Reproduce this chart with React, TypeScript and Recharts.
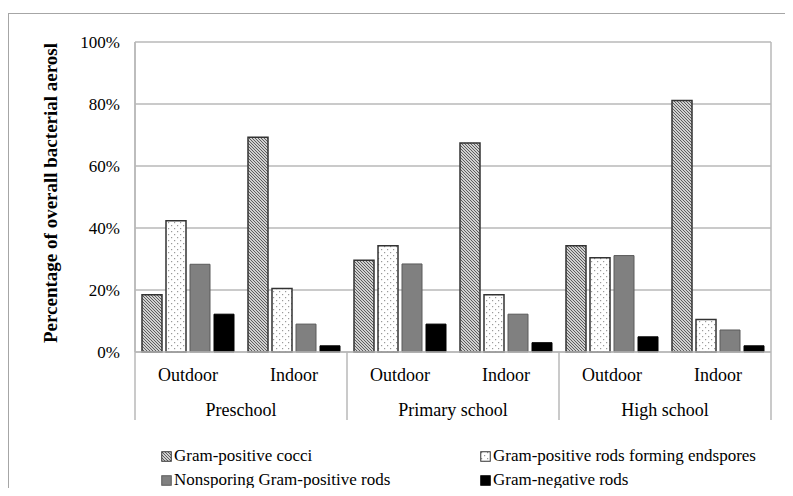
import React from 'react';
import { BarChart, Bar, XAxis, YAxis, CartesianGrid, Legend } from 'recharts';

const schools = ['Preschool', 'Primary school', 'High school'];
const locations = ['Outdoor', 'Indoor'];
const seriesNames = [
  'Gram-positive cocci',
  'Gram-positive rods forming endspores',
  'Nonsporing Gram-positive rods',
  'Gram-negative rods',
];
const cocci = [18.5, 69.3, 29.6, 67.4, 34.3, 81.1];
const endspores = [42.3, 20.5, 34.3, 18.5, 30.4, 10.5];
const nonsporing = [28.3, 9.0, 28.4, 12.2, 31.1, 7.1];
const gramNeg = [12.2, 2.0, 9.0, 3.0, 4.9, 2.0];
const yTicks = [0, 20, 40, 60, 80, 100];

const data = schools.flatMap((s, si) =>
  locations.map((l, li) => {
    const i = si * locations.length + li;
    return {
      id: `${s}|${l}`,
      school: s,
      location: l,
      cocci: cocci[i],
      endspores: endspores[i],
      nonsporing: nonsporing[i],
      gramNeg: gramNeg[i],
    };
  })
);

const FONT = "'Liberation Serif', 'Times New Roman', serif";
const W = 785;
const H = 488;
const MARGIN = { top: 34, right: 22, left: 0, bottom: 74 };
const Y_AXIS_W = 127;
const PLOT_W = W - MARGIN.left - MARGIN.right - Y_AXIS_W;
const BAND = PLOT_W / data.length;
const LINE = '#b8b8b8';

const Patterns = ({ prefix }: { prefix: string }) => (
  <defs>
    <pattern id={`${prefix}hatch`} width="3" height="3" patternUnits="userSpaceOnUse">
      <rect width="3" height="3" fill="#d0d0d0" />
      <path d="M0,0 L3,3 M-1,2 L1,4 M2,-1 L4,1" stroke="#505050" strokeWidth="0.9" />
    </pattern>
    <pattern id={`${prefix}dots`} width="6" height="6" patternUnits="userSpaceOnUse">
      <rect width="6" height="6" fill="#ffffff" />
      <rect x="1" y="1" width="1.2" height="1.2" fill="#9a9a9a" />
      <rect x="4" y="4" width="1.2" height="1.2" fill="#9a9a9a" />
    </pattern>
  </defs>
);

const seriesStyles = [
  { key: 'cocci', fill: 'hatch', stroke: '#333', sw: 1.5 },
  { key: 'endspores', fill: 'dots', stroke: '#333', sw: 1.5 },
  { key: 'nonsporing', fill: '#808080', stroke: '#5a5a5a', sw: 1 },
  { key: 'gramNeg', fill: '#000000', stroke: '#000000', sw: 1 },
];

const fillFor = (f: string, prefix: string) =>
  f.startsWith('#') ? f : `url(#${prefix}${f})`;

const CategoryTick = (props: any) => {
  const { x, y, payload } = props;
  const idx: number = payload.index;
  const row = data[idx];
  const half = BAND / 2;
  const isGroupStart = idx % locations.length === 0;
  const isLast = idx === data.length - 1;
  return (
    <g>
      <text x={x} y={y + 29} textAnchor="middle" fontFamily={FONT} fontSize={18} fill="#000">
        {row.location}
      </text>
      {isGroupStart && (
        <text x={x + half} y={y + 64} textAnchor="middle" fontFamily={FONT} fontSize={18} fill="#000">
          {row.school}
        </text>
      )}
      {isGroupStart && (
        <line x1={x - half} x2={x - half} y1={y} y2={y + 68} stroke={LINE} strokeWidth={1.5} />
      )}
      {isLast && (
        <line x1={x + half} x2={x + half} y1={y} y2={y + 68} stroke={LINE} strokeWidth={1.5} />
      )}
    </g>
  );
};

const YLabel = (props: any) => {
  const vb = props.viewBox || { x: 0, y: 0, width: 0, height: 0 };
  const x = vb.x + 49;
  const y = vb.y + vb.height / 2 - 4;
  return (
    <text
      x={x}
      y={y}
      transform={`rotate(-90, ${x}, ${y})`}
      textAnchor="middle"
      fontFamily={FONT}
      fontWeight="bold"
      fontSize={19}
      fill="#000"
    >
      Percentage of overall bacterial aerosl
    </text>
  );
};

const LegendContent = () => (
  <div
    style={{
      display: 'grid',
      gridTemplateColumns: '319px 320px',
      rowGap: 0,
      fontFamily: FONT,
      fontSize: 17,
      lineHeight: '24px',
      color: '#000',
    }}
  >
    {[0, 1, 2, 3].map((i) => {
      const s = seriesStyles[i];
      return (
        <div key={s.key} style={{ display: 'flex', alignItems: 'center', whiteSpace: 'nowrap' }}>
          <svg width={11} height={11} style={{ marginRight: 2 }}>
            <Patterns prefix="lg" />
            <rect
              x={0.75}
              y={0.75}
              width={9.5}
              height={9.5}
              fill={fillFor(s.fill, 'lg')}
              stroke={s.stroke}
              strokeWidth={1}
            />
          </svg>
          <span>{seriesNames[i]}</span>
        </div>
      );
    })}
  </div>
);

export default function App() {
  return (
    <div
      style={{
        position: 'relative',
        width: W,
        height: H,
        marginBottom: -8,
        background: '#fff',
      }}
    >
      <div
        style={{
          position: 'absolute',
          left: 0,
          top: 5,
          width: W,
          height: H - 5,
          border: '1.5px solid #a6a6a6',
          borderBottom: 'none',
          boxSizing: 'border-box',
        }}
      />
      <div style={{ position: 'absolute', left: 0, top: 0 }}>
        <BarChart
          width={W}
          height={H}
          data={data}
          margin={MARGIN}
          barSize={20}
          barGap={4}
        >
          <Patterns prefix="ch" />
          <CartesianGrid
            stroke={LINE}
            strokeWidth={1.5}
            vertical={true}
            verticalCoordinatesGenerator={({ offset }: any) => [offset.left, offset.left + offset.width]}
          />
          <XAxis
            dataKey="id"
            height={70}
            tickLine={false}
            tickSize={0}
            tickMargin={0}
            axisLine={{ stroke: LINE, strokeWidth: 1.5 }}
            tick={<CategoryTick />}
            interval={0}
          />
          <YAxis
            width={Y_AXIS_W}
            domain={[0, 100]}
            ticks={yTicks}
            tickFormatter={(v: number) => `${v}%`}
            tickLine={false}
            tickSize={6}
            tickMargin={9}
            axisLine={{ stroke: LINE, strokeWidth: 1.5 }}
            tick={{ fontFamily: FONT, fontSize: 17, fill: '#000' }}
            label={{ content: <YLabel /> }}
          />
          <Legend
            verticalAlign="middle"
            align="center"
            content={<LegendContent />}
            wrapperStyle={{ position: 'absolute', left: 153, top: 436, width: 640 }}
          />
          {seriesStyles.map((s, i) => (
            <Bar
              key={s.key}
              dataKey={s.key}
              name={seriesNames[i]}
              fill={fillFor(s.fill, 'ch')}
              stroke={s.stroke}
              strokeWidth={s.sw}
              isAnimationActive={false}
            />
          ))}
        </BarChart>
      </div>
    </div>
  );
}
